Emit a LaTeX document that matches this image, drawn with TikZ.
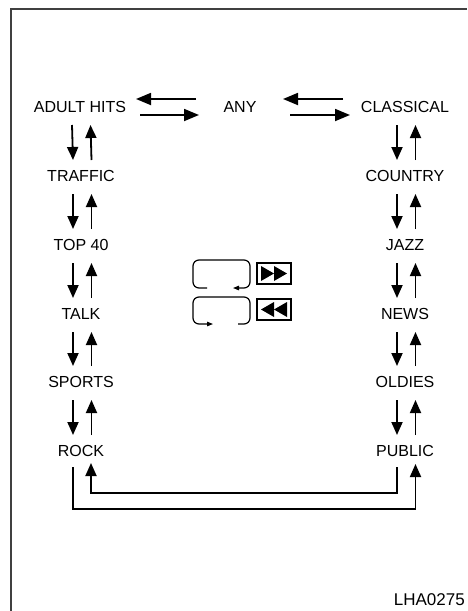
\documentclass[tikz,border=0pt]{standalone}
\usepackage{fontspec}
\setmainfont{Liberation Sans}
\usetikzlibrary{arrows.meta,calc}
\begin{document}
\begin{tikzpicture}[x=1pt,y=-1pt,
  lbl/.style={inner sep=0pt,font=\fontsize{16}{16}\selectfont},
  arr/.style={line width=1.8pt,-{Triangle[length=13pt,width=11pt]}},
  harr/.style={line width=1.8pt,-{Triangle[length=15pt,width=12pt]}},
  smallarr/.style={line width=1.2pt,rounded corners=6pt,-{Triangle[length=6pt,width=4.5pt]}},
  framel/.style={line width=1.5pt,draw=black!75}]
\useasboundingbox (0,0) rectangle (467,611);
% frame
\draw[framel] (11,611) -- (11,9) -- (467,9);
% top row
\node[lbl] (adult) at (80,107) {ADULT HITS};
\node[lbl] (any) at (240,107) {ANY};
\node[lbl] (classical) at (405,107) {CLASSICAL};
% left column
\node[lbl] (traffic) at (81,176) {TRAFFIC};
\node[lbl] (top) at (81,245) {TOP 40};
\node[lbl] (talk) at (81,314) {TALK};
\node[lbl] (sports) at (81,382) {SPORTS};
\node[lbl] (rock) at (81,451) {ROCK};
% right column
\node[lbl] (country) at (405,176) {COUNTRY};
\node[lbl] (jazz) at (405,245) {JAZZ};
\node[lbl] (news) at (405,314) {NEWS};
\node[lbl] (oldies) at (405,382) {OLDIES};
\node[lbl] (public) at (405,451) {PUBLIC};
% horizontal arrows
\draw[harr] ($(any)+(-44,-8)$) -- ($(adult)+(56,-8)$);
\draw[harr] ($(adult)+(60,8)$) -- ($(any)+(-41,8)$);
\draw[harr] ($(classical)+(-62,-8)$) -- ($(any)+(43,-8)$);
\draw[harr] ($(any)+(50,8)$) -- ($(classical)+(-55,8)$);
% vertical arrows
\foreach \a/\b in {adult/traffic,traffic/top,top/talk,talk/sports,sports/rock,
                   classical/country,country/jazz,jazz/news,news/oldies,oldies/public}{
  \draw[arr] ($(\a)+(-8,18)$) -- ($(\b)+(-8,-16)$);
  \draw[arr] ($(\b)+(10.5,-16)$) -- ($(\a)+(10.5,18)$);
}
% bottom loop
\draw[arr] ($(rock)+(-8,16)$) |- ($(public)+(10.5,58)$) -- ($(public)+(10.5,13)$);
\draw[arr] ($(public)+(-8,16)$) |- ($(rock)+(10,42)$) -- ($(rock)+(10,12)$);
% middle icons
\draw[smallarr] (207,288) -- (193,288) -- (193,260) -- (250,260) -- (250,288) -- (233,288);
\draw[smallarr] (238,324) -- (250,324) -- (250,297) -- (193,297) -- (193,324) -- (213,324);
\draw[line width=1.3pt] (257,263) rectangle (291,284);
\fill (261,266) -- (274,273.5) -- (261,281) -- cycle;
\fill (274,266) -- (287,273.5) -- (274,281) -- cycle;
\draw[line width=1.3pt] (257,299) rectangle (291,320);
\fill (274,302) -- (261,309.5) -- (274,317) -- cycle;
\fill (287,302) -- (274,309.5) -- (287,317) -- cycle;
% label
\node[inner sep=0pt,anchor=east,font=\fontsize{17}{17}\selectfont] (code) at (465,600) {LHA0275};
\end{tikzpicture}
\end{document}
